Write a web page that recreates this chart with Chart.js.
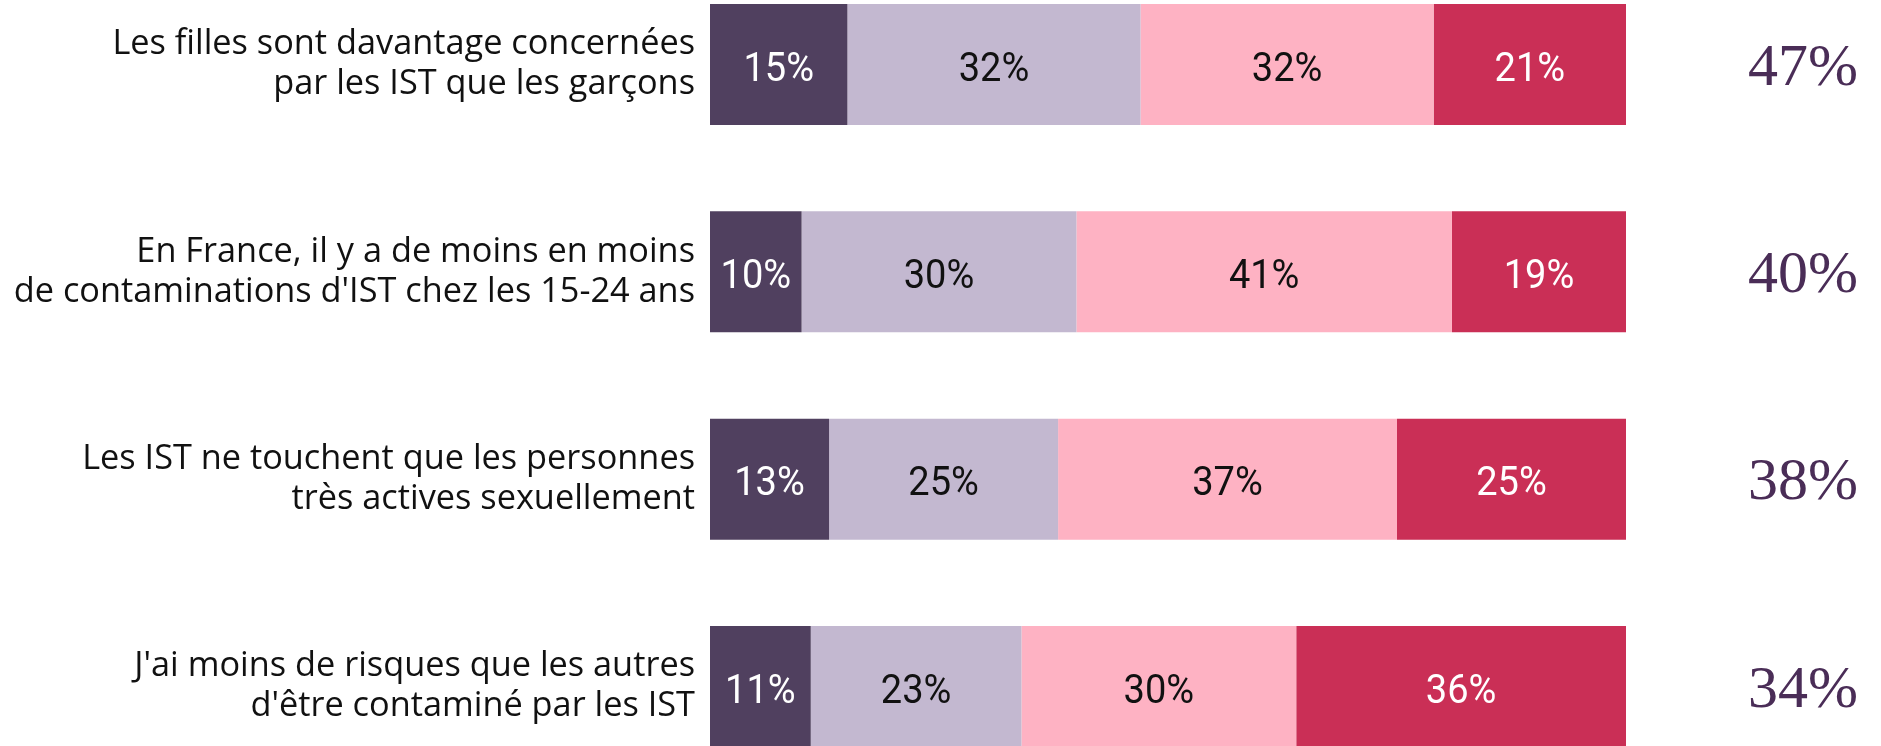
<!DOCTYPE html>
<html lang="fr">
<head>
<meta charset="utf-8">
<title>IST - idées reçues</title>
<script src="https://cdn.jsdelivr.net/npm/chart.js@4.4.1/dist/chart.umd.min.js"></script>
<style>
  html, body { margin: 0; padding: 0; background: #ffffff; }
  #wrap { position: relative; width: 1881px; height: 746px; }
</style>
</head>
<body>
<div id="wrap"><canvas id="chart"></canvas></div>
<script>
  // ---------- Data ----------
  const statements = [
    ['Les filles sont davantage concernées', 'par les IST que les garçons'],
    ['En France, il y a de moins en moins', "de contaminations d'IST chez les 15-24 ans"],
    ['Les IST ne touchent que les personnes', 'très actives sexuellement'],
    ["J'ai moins de risques que les autres", "d'être contaminé par les IST"],
  ];
  const answerLabels = ['Tout à fait d\'accord', 'Plutôt d\'accord', 'Plutôt pas d\'accord', 'Pas du tout d\'accord'];
  const strongAgree = [15, 10, 13, 11];
  const ratherAgree = [32, 30, 25, 23];
  const ratherDisagree = [32, 41, 37, 30];
  const strongDisagree = [21, 19, 25, 36];
  const totalAgree = [47, 40, 38, 34];

  const barColors = ['#50405f', '#c3b8d0', '#feb2c3', '#ca2f56'];
  const textColors = ['#ffffff', '#111111', '#111111', '#ffffff'];

  // ---------- Plugins ----------

  // percentages inside each segment + agree totals on the right
  const valueLabels = {
    id: 'valueLabels',
    afterDatasetsDraw(chart) {
      const ctx = chart.ctx;
      chart.data.datasets.forEach((ds, di) => {
        const meta = chart.getDatasetMeta(di);
        meta.data.forEach((bar, i) => {
          const { x, y, base } = bar.getProps(['x', 'y', 'base'], true);
          ctx.save();
          ctx.fillStyle = textColors[di];
          ctx.font = '40px Roboto';
          ctx.textAlign = 'center';
          ctx.textBaseline = 'alphabetic';
          ctx.translate((x + base) / 2, y + 16);
          ctx.scale(0.95, 1);
          ctx.fillText(ds.data[i] + '%', 0, 0);
          ctx.restore();
        });
      });

      const yScale = chart.scales.y;
      const cx = chart.chartArea.right + 177;
      ctx.save();
      ctx.fillStyle = '#4a2d57';
      ctx.font = '60px "Liberation Serif"';
      ctx.textAlign = 'center';
      ctx.textBaseline = 'alphabetic';
      totalAgree.forEach((v, i) => {
        ctx.fillText(v + '%', cx, yScale.getPixelForValue(i) + 20);
      });
      ctx.restore();
    }
  };

  // ---------- Chart ----------
  const series = [strongAgree, ratherAgree, ratherDisagree, strongDisagree];

  new Chart(document.getElementById('chart'), {
    type: 'bar',
    data: {
      labels: statements,
      datasets: series.map((data, i) => ({
        label: answerLabels[i],
        data,
        backgroundColor: barColors[i],
        borderWidth: 0,
        barPercentage: 1,
        categoryPercentage: 0.584,
        clip: false,
      })),
    },
    options: {
      indexAxis: 'y',
      responsive: true,
      maintainAspectRatio: false,
      animation: false,
      layout: { padding: { top: 64.5, bottom: 59.5, left: 0, right: 255 } },
      plugins: {
        legend: { display: false },
        tooltip: { enabled: false },
      },
      scales: {
        x: {
          stacked: true,
          min: 0,
          max: 100,
          display: false,
        },
        y: {
          stacked: true,
          offset: false,
          grid: { display: false, drawTicks: false },
          border: { display: false },
          afterFit(scale) { scale.width = 710; },
          ticks: {
            padding: 15,
            color: '#111111',
            font: { family: '"Open Sans"', size: 34.3, lineHeight: '40px' },
          },
        },
      },
    },
    plugins: [valueLabels],
  });
</script>
</body>
</html>
